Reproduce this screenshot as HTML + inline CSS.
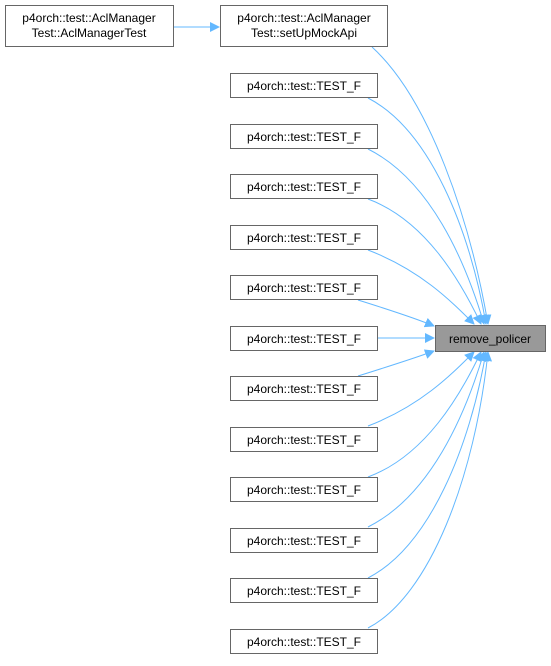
<!DOCTYPE html>
<html><head><style>
html,body{margin:0;padding:0;background:#fff;}
svg text{font-family:"Liberation Sans",sans-serif;font-size:12px;fill:#000;}
</style></head><body>
<svg width="551" height="661" viewBox="0 0 551 661" xmlns="http://www.w3.org/2000/svg">
<defs><marker id="a" markerWidth="10" markerHeight="10" refX="9" refY="5" orient="auto" markerUnits="userSpaceOnUse"><path d="M0,0 L10,5 L0,10 z" fill="#63b8ff"/></marker></defs>
<g fill="none" stroke="#63b8ff" stroke-width="1">
<path d="M174,27 L219,27" marker-end="url(#a)"/>
<path d="M372,47 C430,100 470,220 488,324" marker-end="url(#a)"/>
<path d="M368,98 C430,130 470,230 486,324" marker-end="url(#a)"/>
<path d="M368,149 C430,180 465,260 484,324" marker-end="url(#a)"/>
<path d="M368,199 C425,220 460,280 481,324" marker-end="url(#a)"/>
<path d="M368,250 C420,270 450,300 474,324" marker-end="url(#a)"/>
<path d="M358,300 C390,310 415,318 434,326" marker-end="url(#a)"/>
<path d="M378,338 L434,338" marker-end="url(#a)"/>
<path d="M358,376 C390,366 415,358 434,351" marker-end="url(#a)"/>
<path d="M368,426 C420,406 450,376 474,352" marker-end="url(#a)"/>
<path d="M368,477 C425,456 460,396 481,352" marker-end="url(#a)"/>
<path d="M368,527 C430,496 465,416 484,352" marker-end="url(#a)"/>
<path d="M368,578 C430,546 470,446 486,352" marker-end="url(#a)"/>
<path d="M368,628 C430,596 475,476 488,352" marker-end="url(#a)"/>
</g>
<g fill="#fff" stroke="#666" stroke-width="1">
<rect x="5.5" y="5.5" width="168" height="41"/>
<rect x="220.5" y="5.5" width="167" height="41"/>
<rect x="230.5" y="73.5" width="147" height="24"/>
<rect x="230.5" y="124.5" width="147" height="24"/>
<rect x="230.5" y="174.5" width="147" height="24"/>
<rect x="230.5" y="225.5" width="147" height="24"/>
<rect x="230.5" y="275.5" width="147" height="24"/>
<rect x="230.5" y="326.5" width="147" height="24"/>
<rect x="230.5" y="376.5" width="147" height="24"/>
<rect x="230.5" y="427.5" width="147" height="24"/>
<rect x="230.5" y="477.5" width="147" height="24"/>
<rect x="230.5" y="528.5" width="147" height="24"/>
<rect x="230.5" y="578.5" width="147" height="24"/>
<rect x="230.5" y="629.5" width="147" height="24"/>
<rect x="435.5" y="325.5" width="110" height="26" fill="#999"/>
</g>
<g text-anchor="middle">
<text x="89" y="22">p4orch::test::AclManager</text>
<text x="89" y="37">Test::AclManagerTest</text>
<text x="304" y="22">p4orch::test::AclManager</text>
<text x="304" y="37">Test::setUpMockApi</text>
<text x="304" y="90">p4orch::test::TEST_F</text>
<text x="304" y="141">p4orch::test::TEST_F</text>
<text x="304" y="191">p4orch::test::TEST_F</text>
<text x="304" y="242">p4orch::test::TEST_F</text>
<text x="304" y="292">p4orch::test::TEST_F</text>
<text x="304" y="343">p4orch::test::TEST_F</text>
<text x="304" y="393">p4orch::test::TEST_F</text>
<text x="304" y="444">p4orch::test::TEST_F</text>
<text x="304" y="494">p4orch::test::TEST_F</text>
<text x="304" y="545">p4orch::test::TEST_F</text>
<text x="304" y="595">p4orch::test::TEST_F</text>
<text x="304" y="646">p4orch::test::TEST_F</text>
<text x="490" y="343">remove_policer</text>
</g>
</svg>
</body></html>
